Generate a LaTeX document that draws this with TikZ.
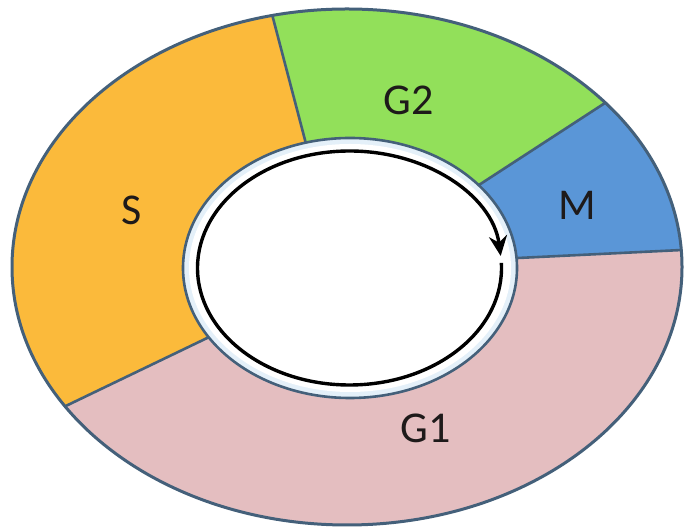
\documentclass[tikz,border=0pt]{standalone}
\usepackage{fontspec}
\setmainfont{Carlito}
\usetikzlibrary{calc,arrows.meta}
\definecolor{cS}{HTML}{FBBA3B}
\definecolor{cGtwo}{HTML}{92E05A}
\definecolor{cM}{HTML}{5A96D7}
\definecolor{cGone}{HTML}{E4BEC0}
\definecolor{edge}{HTML}{44607A}
\definecolor{band}{HTML}{E4F0F9}
\definecolor{txt}{HTML}{1E1A1A}
\tikzset{
  seglabel/.style={font=\fontsize{44}{46}\selectfont, text=txt, inner sep=0pt},
  boundary/.style={draw=edge, line width=2.6pt},
}
\begin{document}
\begin{tikzpicture}[x=1pt,y=1pt]
\useasboundingbox (0,0) rectangle (687,529);
\coordinate (C) at (350,261);
% boundary points
\coordinate (iSG) at (305,389); \coordinate (oSG) at (273,511);
\coordinate (iGM) at (482,346); \coordinate (oGM) at (605,426);
\coordinate (iMG) at (518,271); \coordinate (oMG) at (682,279);
\coordinate (iGS) at (203,189); \coordinate (oGS) at (72,126);
\coordinate (eSG) at ($(iSG)!2!(oSG)$);
\coordinate (eGM) at ($(iGM)!2!(oGM)$);
\coordinate (eMG) at ($(iMG)!2!(oMG)$);
\coordinate (eGS) at ($(iGS)!2!(oGS)$);
\coordinate (jSG) at ($(oSG)!1.3!(iSG)$);
\coordinate (jGM) at ($(oGM)!1.3!(iGM)$);
\coordinate (jMG) at ($(oMG)!1.3!(iMG)$);
\coordinate (jGS) at ($(oGS)!1.3!(iGS)$);
\begin{scope}
  \clip (347,262) ellipse [x radius=335, y radius=258];
  \fill[cGtwo] (C) -- (jSG) -- (eSG) -- (eSG -| 900,0) -- (eGM -| 900,0) -- (eGM) -- (jGM) -- cycle;
  \fill[cM] (C) -- (jGM) -- (eGM) -- (eGM -| 900,0) -- (eMG -| 900,0) -- (eMG) -- (jMG) -- cycle;
  \fill[cGone] (C) -- (jMG) -- (eMG) -- (900,287) -- (900,-100) -- (-100,-100) -- (eGS -| -100,0) -- (eGS) -- (jGS) -- cycle;
  \fill[cS] (C) -- (jGS) -- (eGS) -- (eGS -| -100,0) -- (-100,700) -- (eSG |- 0,700) -- (eSG) -- (jSG) -- cycle;
  \draw[boundary] (jSG) -- (eSG);
  \draw[boundary] (jGM) -- (eGM);
  \draw[boundary] (jMG) -- (eMG);
  \draw[boundary] (jGS) -- (eGS);
\end{scope}
\draw[edge, line width=3pt] (347,262) ellipse [x radius=335, y radius=258];
% hole
\fill[band, draw=edge, line width=2.6pt] (350,261) ellipse [x radius=167, y radius=130];
\fill[white] (350,261) ellipse [x radius=161, y radius=124];
% cycle arrow
\coordinate (arcstart) at ($(349.5,261)+(2.5:152 and 117)$);
\draw[black, line width=3.4pt, -{Stealth[length=20pt,width=18pt]}]
  (arcstart) arc[start angle=2.5, end angle=-354.1, x radius=152, y radius=117];
% labels
\node[seglabel] (S) at (132,319) {S};
\node[seglabel] (G2) at (409,429) {G2};
\node[seglabel] (M) at (577,324) {M};
\node[seglabel] (G1) at (426,101) {G1};
\end{tikzpicture}
\end{document}
